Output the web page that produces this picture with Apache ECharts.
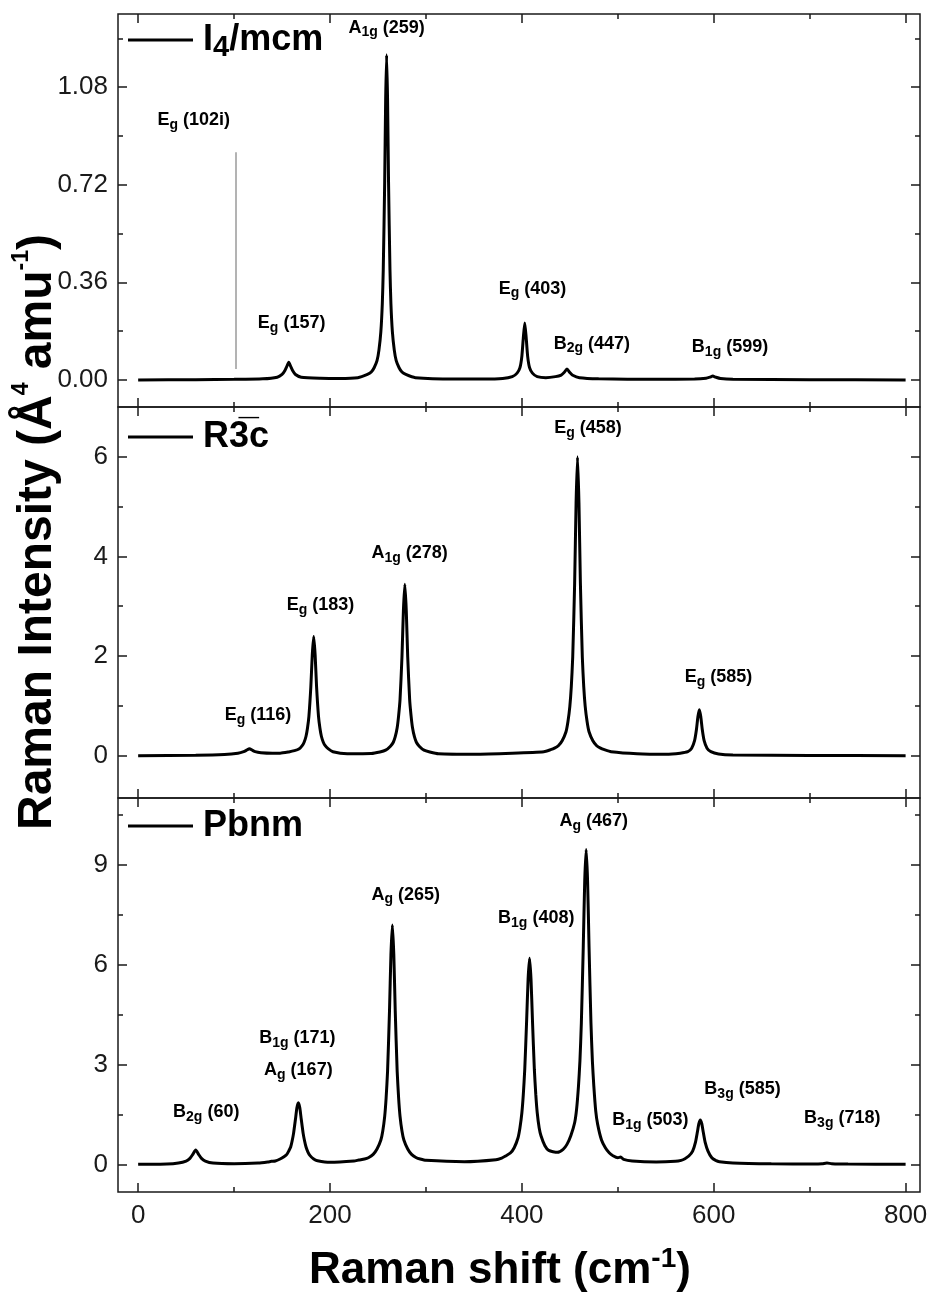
<!DOCTYPE html>
<html lang="en">
<head>
<meta charset="UTF-8">
<script src="https://cdn.jsdelivr.net/npm/echarts@6/dist/echarts.min.js"></script>
<title>Raman spectra</title>
<style>
  html, body { margin: 0; padding: 0; background: #fff; }
  #main { width: 928px; height: 1299px; }
</style>
</head>
<body>
<div id="main"></div>
<script>
// spectra, [Raman shift, intensity]
var i4mcmSpectrum = [
  [0, 0], [60, 0.001], [100, 0.002], [130, 0.004], [145, 0.01], [150, 0.02], [153, 0.035], [155, 0.05],
  [157, 0.065], [159, 0.05], [161, 0.035], [164, 0.02], [170, 0.01], [190, 0.006], [210, 0.005],
  [229, 0.008], [239, 0.02], [243, 0.029], [246, 0.045], [249, 0.071], [251, 0.11], [253, 0.178],
  [254.5, 0.28], [255.5, 0.406], [257, 0.732], [258, 1.034], [259, 1.2], [260, 1.034], [261, 0.732],
  [262.5, 0.406], [263.5, 0.28], [265, 0.178], [267, 0.11], [269, 0.071], [272, 0.045], [275, 0.029],
  [279, 0.02], [289, 0.008], [330, 0.003], [360, 0.003],
  [380, 0.005], [390, 0.012], [395, 0.025], [398, 0.045], [400, 0.088], [401.5, 0.155], [403, 0.21],
  [404.5, 0.155], [406, 0.088], [408, 0.045], [411, 0.025], [416, 0.012], [425, 0.008], [435, 0.012],
  [441, 0.018], [444, 0.027], [447, 0.04], [450, 0.027], [453, 0.017], [460, 0.008], [480, 0.004],
  [540, 0.002], [580, 0.003], [592, 0.006], [596, 0.01], [599, 0.014], [602, 0.01], [607, 0.005],
  [620, 0.002], [700, 0.001], [800, 0]
];
var r3cSpectrum = [
  [0, 0], [60, 0.01], [90, 0.025], [104, 0.05], [110, 0.08], [113, 0.11], [116, 0.14], [119, 0.11],
  [122, 0.08], [128, 0.06], [140, 0.05], [148, 0.05], [157, 0.075], [163, 0.1], [168, 0.14], [171, 0.2],
  [173, 0.27], [175, 0.39], [176.5, 0.55], [178, 0.79], [180, 1.38], [181.5, 2.02], [183, 2.39],
  [184.5, 2.02], [186, 1.38], [188, 0.79], [189.5, 0.55], [191, 0.39], [193, 0.27], [195, 0.2],
  [198, 0.14], [203, 0.08], [218, 0.04], [243, 0.045], [252, 0.075], [258, 0.11], [263, 0.19],
  [266, 0.27], [268, 0.38], [270, 0.56], [271.5, 0.8], [273, 1.13], [275, 1.98], [276.5, 2.91],
  [278, 3.44], [279.5, 2.91], [281, 1.98], [283, 1.13], [284.5, 0.8], [286, 0.56], [288, 0.38],
  [290, 0.27], [293, 0.19], [298, 0.11], [304, 0.075], [313, 0.04], [350, 0.03], [390, 0.05],
  [423, 0.08], [430, 0.12], [434, 0.15], [438, 0.2], [442, 0.3], [446, 0.48], [448, 0.68], [450, 0.99],
  [451.5, 1.38], [453, 1.98], [455, 3.46], [456.5, 5.07], [458, 6.0], [459.5, 5.07], [461, 3.46],
  [463, 1.98], [464.5, 1.38], [466, 0.99], [468, 0.68], [470, 0.48], [474, 0.3], [478, 0.2],
  [482, 0.15], [486, 0.12], [493, 0.08], [520, 0.04], [550, 0.03], [565, 0.05], [573, 0.08],
  [577, 0.15], [580, 0.3], [582, 0.53], [583.5, 0.78], [585, 0.92], [586.5, 0.78], [588, 0.53],
  [590, 0.3], [593, 0.15], [597, 0.08], [605, 0.035], [620, 0.015], [700, 0.004], [800, 0]
];
var pbnmSpectrum = [
  [0, 0], [30, 0.01], [42, 0.04], [50, 0.1], [54, 0.18], [57, 0.3], [60, 0.43], [63, 0.3], [66, 0.18],
  [70, 0.1], [78, 0.04], [100, 0.02], [125, 0.04], [135, 0.07], [139, 0.09], [143, 0.1], [148, 0.16],
  [152, 0.23], [155, 0.3], [157, 0.4], [159, 0.52], [160.5, 0.7], [162, 0.93], [164, 1.36], [165.5, 1.7],
  [167, 1.85], [168.5, 1.7], [170, 1.36], [172, 0.93], [173.5, 0.7], [175, 0.52], [177, 0.37],
  [179, 0.27], [183, 0.16], [187, 0.11], [200, 0.06], [225, 0.1], [230, 0.13], [236, 0.16], [240, 0.2],
  [245, 0.3], [249, 0.46], [253, 0.73], [255, 1.0], [257, 1.44], [258.5, 2.0], [260, 2.8], [262, 4.6],
  [263.5, 6.3], [265, 7.19], [266.5, 6.3], [268, 4.6], [270, 2.8], [271.5, 2.0], [273, 1.44], [275, 1.0],
  [277, 0.73], [281, 0.46], [285, 0.3], [290, 0.2], [294, 0.16], [300, 0.12], [340, 0.08], [373, 0.14],
  [379, 0.19], [383, 0.25], [388, 0.34], [392, 0.5], [396, 0.8], [398, 1.1], [400, 1.55], [401.5, 2.1],
  [403, 2.85], [405, 4.35], [406.5, 5.57], [408, 6.19], [409.5, 5.57], [411, 4.35], [413, 2.85],
  [414.5, 2.1], [416, 1.55], [418, 1.1], [420, 0.85], [424, 0.56], [428, 0.42], [437, 0.36], [443, 0.45],
  [447, 0.6], [451, 0.86], [455, 1.25], [457, 1.65], [459, 2.35], [460.5, 3.1], [462, 4.25], [464, 6.54],
  [465.5, 8.5], [467, 9.45], [468.5, 8.5], [470, 6.54], [472, 4.25], [473.5, 3.1], [475, 2.35],
  [477, 1.6], [479, 1.2], [483, 0.73], [487, 0.5], [491, 0.35], [495, 0.26], [500, 0.2], [503, 0.22],
  [506, 0.15], [515, 0.1], [540, 0.07], [560, 0.09], [566, 0.12], [570, 0.17], [574, 0.25], [578, 0.4],
  [581, 0.67], [583, 0.98], [584.5, 1.22], [586, 1.33], [587.5, 1.22], [589, 0.98], [591, 0.67],
  [594, 0.4], [598, 0.2], [602, 0.12], [606, 0.08], [620, 0.04], [660, 0.015], [705, 0.01], [713, 0.02],
  [718, 0.04], [723, 0.02], [740, 0.008], [800, 0]
];
// imaginary Eg mode marker in I4/mcm
var eg102iLine = [[102, 0.04], [102, 0.84]];

// mode labels: [x, y, letter, subscript, frequency]
var i4mcmLabels = [
  [259, 1.30, 'A', '1g', '(259)'],
  [58, 0.96, 'E', 'g', '(102i)'],
  [160, 0.208, 'E', 'g', '(157)'],
  [411, 0.337, 'E', 'g', '(403)'],
  [473, 0.134, 'B', '2g', '(447)'],
  [617, 0.12, 'B', '1g', '(599)']
];
var r3cLabels = [
  [125, 0.82, 'E', 'g', '(116)'],
  [190, 3.02, 'E', 'g', '(183)'],
  [283, 4.06, 'A', '1g', '(278)'],
  [469, 6.57, 'E', 'g', '(458)'],
  [605, 1.57, 'E', 'g', '(585)']
];
var pbnmLabels = [
  [71, 1.58, 'B', '2g', '(60)'],
  [166, 3.79, 'B', '1g', '(171)'],
  [167, 2.84, 'A', 'g', '(167)'],
  [279, 8.10, 'A', 'g', '(265)'],
  [475, 10.3, 'A', 'g', '(467)'],
  [415, 7.4, 'B', '1g', '(408)'],
  [534, 1.33, 'B', '1g', '(503)'],
  [630, 2.25, 'B', '3g', '(585)'],
  [734, 1.38, 'B', '3g', '(718)']
];

var xMajorTicks = [0, 200, 400, 600, 800];
var xMinorTicks = [100, 300, 500, 700];
var i4mcmTicks = [0, 0.36, 0.72, 1.08];
var i4mcmMinorTicks = [0.18, 0.54, 0.90, 1.26];
var r3cTicks = [0, 2, 4, 6];
var r3cMinorTicks = [1, 3, 5];
var pbnmTicks = [0, 3, 6, 9];
var pbnmMinorTicks = [1.5, 4.5, 7.5, 10.5];

var FONT = 'Liberation Sans, Arial, Helvetica, sans-serif';
var INK = '#1a1a1a';

var panels = [
  { name: 'I4/mcm', legendText: '{f|I}{s|4}{b|/mcm}', top: 14, height: 393, yMin: -0.1, yMax: 1.35,
    ticks: i4mcmTicks, minor: i4mcmMinorTicks, digits: 2, data: i4mcmSpectrum, labels: i4mcmLabels, legendTop: 22 },
  { name: 'R-3c', legendText: '{f|R3\u0305c}', top: 407, height: 391, yMin: -0.85, yMax: 7.0,
    ticks: r3cTicks, minor: r3cMinorTicks, digits: 0, data: r3cSpectrum, labels: r3cLabels, legendTop: 419 },
  { name: 'Pbnm', legendText: '{f|Pbnm}', top: 798, height: 394, yMin: -0.83, yMax: 11.0,
    ticks: pbnmTicks, minor: pbnmMinorTicks, digits: 0, data: pbnmSpectrum, labels: pbnmLabels, legendTop: 808 }
];

var grids = [], xAxes = [], yAxes = [], series = [], legends = [];

function tickAxis(extra, values, len) {
  return Object.assign({
    type: 'value',
    axisLine: { show: false, onZero: false },
    splitLine: { show: false },
    axisTick: { show: true, inside: true, length: len, customValues: values, lineStyle: { color: INK, width: 1.5 } },
    axisLabel: { show: false }
  }, extra);
}

var legendRich = {
  f: { fontFamily: FONT, fontWeight: 'bold', fontSize: 36, color: '#000', lineHeight: 44, padding: [0, 0, 0, 5] },
  b: { fontFamily: FONT, fontWeight: 'bold', fontSize: 36, color: '#000', lineHeight: 44 },
  s: { fontFamily: FONT, fontWeight: 'bold', fontSize: 29, color: '#000', lineHeight: 44, verticalAlign: 'bottom' }
};

panels.forEach(function (p, i) {
  grids.push({ left: 118, right: 8, top: p.top, height: p.height, show: true, outerBoundsMode: 'none',
    containLabel: false, borderColor: INK, borderWidth: 1.5, backgroundColor: 'transparent' });

  var xb = { gridIndex: i, min: -21, max: 815 };
  var xMain = tickAxis(Object.assign({ position: 'bottom' }, xb), xMajorTicks, 9);
  if (i === panels.length - 1) {
    xMain.axisLabel = { show: true, customValues: xMajorTicks, margin: 11,
      fontFamily: FONT, fontSize: 26, color: INK };
  }
  xAxes.push(xMain,
    tickAxis(Object.assign({ position: 'bottom' }, xb), xMinorTicks, 5),
    tickAxis(Object.assign({ position: 'top' }, xb), xMajorTicks, 9),
    tickAxis(Object.assign({ position: 'top' }, xb), xMinorTicks, 5));

  var yb = { gridIndex: i, min: p.yMin, max: p.yMax };
  var yMain = tickAxis(Object.assign({ position: 'left' }, yb), p.ticks, 9);
  yMain.axisLabel = { show: true, customValues: p.ticks, margin: 10, fontFamily: FONT, fontSize: 26, color: INK,
    formatter: (function (d) { return function (v) { return Number(v).toFixed(d); }; })(p.digits) };
  yAxes.push(yMain,
    tickAxis(Object.assign({ position: 'left' }, yb), p.minor, 5),
    tickAxis(Object.assign({ position: 'right' }, yb), p.ticks, 9),
    tickAxis(Object.assign({ position: 'right' }, yb), p.minor, 5));

  series.push({
    name: p.name, type: 'line', xAxisIndex: i * 4, yAxisIndex: i * 4,
    data: p.data, showSymbol: false, symbol: 'none', smooth: 0.2,
    lineStyle: { color: '#000', width: 3 }, itemStyle: { color: '#000' }
  });

  series.push({
    type: 'scatter', xAxisIndex: i * 4, yAxisIndex: i * 4, symbolSize: 0.1,
    itemStyle: { color: '#fff' },
    data: p.labels.map(function (l) { return { value: [l[0], l[1]], mode: l }; }),
    label: {
      show: true, position: 'inside', opacity: 1,
      formatter: function (prm) {
        var l = prm.data.mode;
        return '{m|' + l[2] + '}{s|' + l[3] + '}{m| ' + l[4] + '}';
      },
      rich: {
        m: { fontFamily: FONT, fontWeight: 'bold', fontSize: 18, color: '#000', lineHeight: 24 },
        s: { fontFamily: FONT, fontWeight: 'bold', fontSize: 14, color: '#000', lineHeight: 24, verticalAlign: 'bottom' }
      }
    }
  });

  legends.push({
    data: [p.name], left: 128, top: p.legendTop, padding: 0,
    icon: 'rect', itemWidth: 65, itemHeight: 3, selectedMode: false,
    itemStyle: { color: '#000' },
    formatter: (function (t) { return function () { return t; }; })(p.legendText),
    textStyle: { rich: legendRich }
  });
});

series.push({
  type: 'line', xAxisIndex: 0, yAxisIndex: 0, data: eg102iLine,
  showSymbol: false, symbol: 'none', lineStyle: { color: '#9a9a9a', width: 1.5 }
});

var chart = echarts.init(document.getElementById('main'), null, { renderer: 'canvas' });
chart.setOption({
  animation: false,
  backgroundColor: '#fff',
  grid: grids,
  xAxis: xAxes,
  yAxis: yAxes,
  legend: legends,
  series: series,
  graphic: [
    {
      type: 'text', x: 38, y: 532, rotation: Math.PI / 2,
      style: {
        text: '{t|Raman Intensity (Å}{p|4}{t| amu}{p|-1}{t|)}',
        align: 'center', verticalAlign: 'middle',
        rich: {
          t: { fontFamily: FONT, fontWeight: 'bold', fontSize: 48, fill: '#000', lineHeight: 56 },
          p: { fontFamily: FONT, fontWeight: 'bold', fontSize: 23, fill: '#000', lineHeight: 56, verticalAlign: 'top' }
        }
      }
    },
    {
      type: 'text', x: 500, y: 1271,
      style: {
        text: '{t|Raman shift (cm}{p|-1}{t|)}',
        align: 'center', verticalAlign: 'middle',
        rich: {
          t: { fontFamily: FONT, fontWeight: 'bold', fontSize: 44, fill: '#000', lineHeight: 52 },
          p: { fontFamily: FONT, fontWeight: 'bold', fontSize: 28, fill: '#000', lineHeight: 52, verticalAlign: 'top' }
        }
      }
    }
  ]
});
</script>
</body>
</html>
